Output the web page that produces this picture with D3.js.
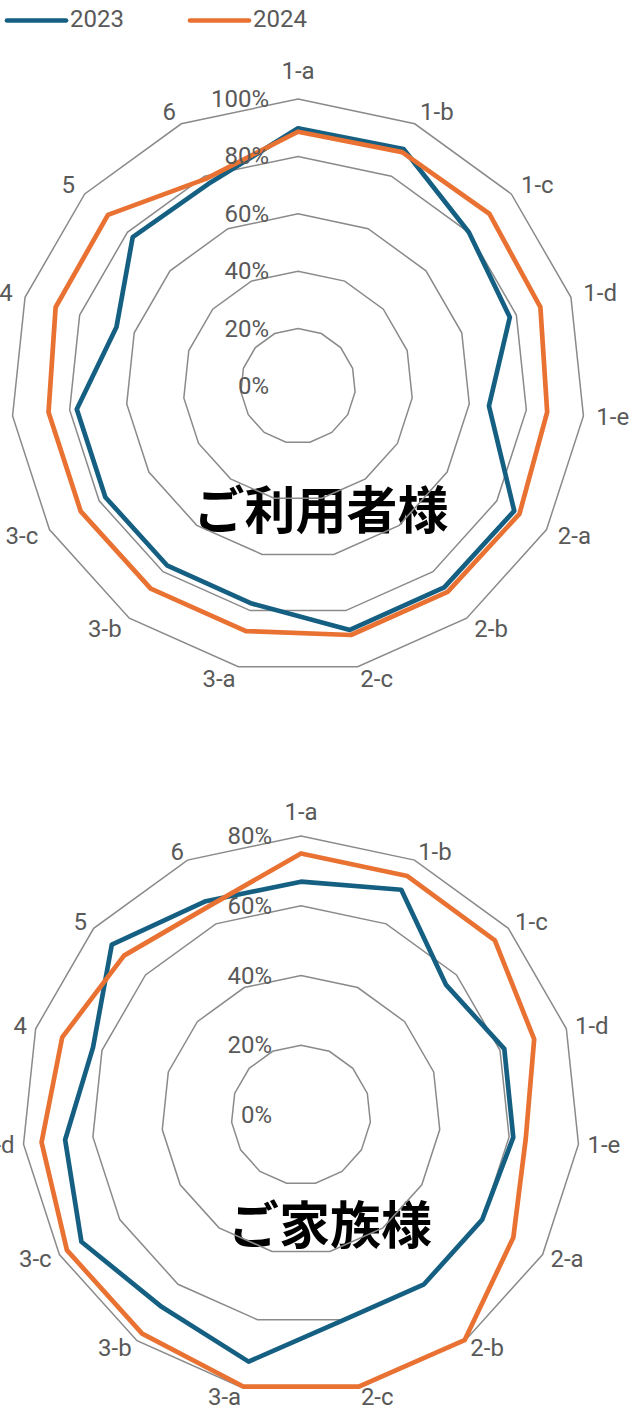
<!DOCTYPE html>
<html><head><meta charset="utf-8">
<script src="https://cdn.jsdelivr.net/npm/d3@7"></script>
<style>html,body{margin:0;padding:0;background:#fff;} svg{display:block;}</style>
</head><body>
<svg id="chart" width="630" height="1407"></svg>
<script>
// ---- data ----
const categories = ["1-a","1-b","1-c","1-d","1-e","2-a","2-b","2-c","3-a","3-b","3-c","3-d","4","5","6"];
const seriesNames = ["2023","2024"];
const seriesColors = ["#156082","#E97132"];

const userTitle = "ご利用者様";
const user2023 = [89.8, 90.4, 80.1, 77.6, 66.9, 87.0, 86.7, 86.9, 77.5, 77.4, 77.5, 77.5, 66.5, 77.5, 77.0];
const user2024 = [88.6, 89.2, 89.7, 88.8, 87.3, 89.1, 88.7, 88.7, 87.3, 87.3, 87.4, 87.4, 88.8, 89.1, 79.0];
const userTicks = [0, 20, 40, 60, 80, 100];

const familyTitle = "ご家族様";
const family2023 = [66.9, 70.7, 55.9, 61.3, 61.2, 60.0, 60.0, 60.0, 72.3, 68.0, 72.7, 68.0, 62.7, 73.0, 67.1];
const family2024 = [75.0, 75.0, 74.8, 70.3, 64.8, 70.3, 79.8, 79.6, 79.6, 77.5, 77.5, 74.8, 72.0, 68.3, 65.4];
const familyTicks = [0, 20, 40, 60, 80];

// ---- drawing ----
const svg = d3.select("#chart");
const FONT = "Roboto, 'Noto Sans', sans-serif";
const LABEL_COLOR = "#595959";
const GRID_COLOR = "#8a8a8a";

function drawRadar(opt) {
  const g = svg.append("g").attr("transform", `translate(${opt.cx},${opt.cy})`);
  const n = categories.length;
  const angle = d3.scaleLinear().domain([0, n]).range([0, 2 * Math.PI]);
  const r = d3.scaleLinear().domain([0, d3.max(opt.ticks)]).range([0, opt.R]);

  // title (behind grid)
  g.append("text")
    .attr("x", opt.titleDx).attr("y", opt.titleDy)
    .attr("text-anchor", "middle").attr("dominant-baseline", "central")
    .attr("font-family", "'Noto Sans CJK JP', sans-serif")
    .attr("font-weight", 700).attr("font-size", 51).attr("fill", "#000")
    .text(opt.title);

  // grid rings
  const ring = v => d3.lineRadial()
    .angle((d, i) => angle(i)).radius(() => r(v))
    .curve(d3.curveLinearClosed)(categories);
  g.selectAll(".ring").data(opt.ticks.filter(t => t > 0)).enter()
    .append("path").attr("d", t => ring(t))
    .attr("fill", "none").attr("stroke", GRID_COLOR).attr("stroke-width", 1.5);

  // series
  const line = d3.lineRadial()
    .angle((d, i) => angle(i)).radius(d => r(d))
    .curve(d3.curveLinearClosed);
  [opt.s1, opt.s2].forEach((s, k) => {
    g.append("path").attr("d", line(s))
      .attr("fill", "none").attr("stroke", seriesColors[k])
      .attr("stroke-width", 4.7).attr("stroke-linejoin", "round");
  });

  // tick labels
  g.selectAll(".tick").data(opt.ticks).enter().append("text")
    .attr("x", -29).attr("y", t => -r(t))
    .attr("text-anchor", "end").attr("dominant-baseline", "central")
    .attr("font-family", FONT).attr("font-size", 24).attr("fill", LABEL_COLOR)
    .text(t => d3.format(".0%")(t / 100));

  // category labels
  const gap = opt.gap;
  g.selectAll(".cat").data(categories).enter().append("text")
    .each(function (d, i) {
      const a = angle(i);
      const s = Math.sin(a), c = Math.cos(a);
      const R = opt.R;
      let x = s * (R + gap), y = -c * (R + gap);
      let anchor = s > 0.05 ? "start" : (s < -0.05 ? "end" : "middle");
      if (anchor === "middle" && c > 0) y -= 15;
      d3.select(this).attr("x", x).attr("y", y)
        .attr("text-anchor", anchor).attr("dominant-baseline", "central");
    })
    .attr("font-family", FONT).attr("font-size", 24).attr("fill", LABEL_COLOR)
    .text(d => d);
}

drawRadar({cx: 298, cy: 386, R: 287, gap: 13, ticks: userTicks, s1: user2023, s2: user2024,
  title: userTitle, titleDx: 23, titleDy: 121});
drawRadar({cx: 301, cy: 1115, R: 279, gap: 9, ticks: familyTicks, s1: family2023, s2: family2024,
  title: familyTitle, titleDx: 29, titleDy: 107});

// legend
const legend = svg.append("g");
const legendX = [7, 190];
seriesNames.forEach((name, k) => {
  legend.append("line").attr("x1", legendX[k]).attr("x2", legendX[k] + 59)
    .attr("y1", 20.5).attr("y2", 20.5)
    .attr("stroke", seriesColors[k]).attr("stroke-width", 4.7).attr("stroke-linecap", "round");
  legend.append("text").attr("x", legendX[k] + 63).attr("y", 19)
    .attr("dominant-baseline", "central")
    .attr("font-family", FONT).attr("font-size", 24).attr("fill", LABEL_COLOR)
    .text(name);
});
</script>
</body></html>
